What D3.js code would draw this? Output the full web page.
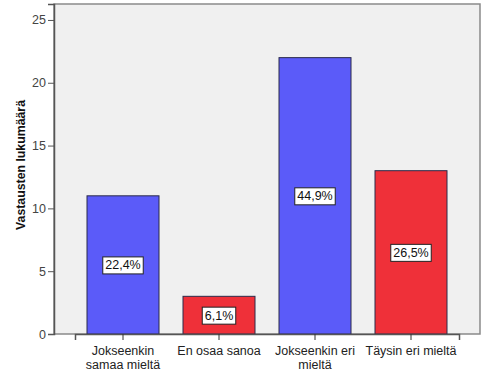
<!DOCTYPE html>
<html><head><meta charset="utf-8">
<script src="https://cdn.jsdelivr.net/npm/d3@7"></script>
<style>body{margin:0;background:#fff;}svg{display:block;font-family:Arial,"Liberation Sans",sans-serif;}</style>
</head><body>
<svg id="c" width="493" height="375"></svg>
<script>
const categories = [["Jokseenkin","samaa mieltä"],["En osaa sanoa"],["Jokseenkin eri","mieltä"],["Täysin eri mieltä"]];
const counts = [11, 3, 22, 13];
const percents = ["22,4%","6,1%","44,9%","26,5%"];
const colors = ["#5b5bf9","#ef3039","#5b5bf9","#ef3039"];
const yTicks = [0,5,10,15,20,25];
const yLabel = "Vastausten lukumäärä";

const svg = d3.select("#c");
const L=54, R=480, T=4, B=334;
const keys = categories.map(c=>c.join(" "));
const x = d3.scaleBand().domain(keys).range([75,459]).paddingInner(0.25).paddingOuter(0.125);
const y = d3.scaleLinear().domain([0,26.27]).range([B,T]);

svg.append("rect").attr("x",L).attr("y",T).attr("width",R-L).attr("height",B-T)
  .attr("fill","#f0f0f0").attr("stroke","#8a8a8a").attr("stroke-width",1.5);

svg.selectAll(".bar").data(counts).enter().append("rect")
  .attr("x",(d,i)=>x(keys[i])).attr("y",d=>y(d))
  .attr("width",x.bandwidth()).attr("height",d=>B-y(d))
  .attr("fill",(d,i)=>colors[i]).attr("stroke","#2a2a4a").attr("stroke-width",1);

// y axis
const ya = svg.append("g").attr("transform",`translate(${L},0)`)
  .call(d3.axisLeft(y).tickValues(yTicks).tickSize(6).tickPadding(2));
ya.select(".domain").attr("stroke","#555").attr("stroke-width",1.5);
ya.selectAll(".tick line").attr("stroke","#555");
ya.selectAll(".tick text").attr("font-size","12.5px").attr("fill","#444").attr("font-family","Arial, 'Liberation Sans', sans-serif");

// x axis
const xa = svg.append("g").attr("transform",`translate(0,${B})`)
  .call(d3.axisBottom(x).tickSize(6).tickFormat(""));
xa.select(".domain").attr("stroke","#555").attr("stroke-width",1.5);
xa.selectAll(".tick line").attr("stroke","#333");
xa.selectAll(".tick").each(function(d,i){
  const t = d3.select(this).append("text").attr("fill","#222").attr("font-size","12.5px")
    .attr("text-anchor","middle").attr("y",21).attr("font-family","Arial, 'Liberation Sans', sans-serif");
  categories[i].forEach((ln,j)=>t.append("tspan").attr("x",0).attr("dy",j===0?0:13.5).text(ln));
});

// percent labels
const lg = svg.selectAll(".lab").data(counts).enter().append("g")
  .attr("transform",(d,i)=>`translate(${x(keys[i])+x.bandwidth()/2},${y(d/2)})`);
lg.append("text").attr("text-anchor","middle").attr("dy","0.36em").attr("font-size","12.5px")
  .attr("fill","#111").attr("font-family","Arial, 'Liberation Sans', sans-serif")
  .text((d,i)=>percents[i]);
lg.each(function(){
  const g=d3.select(this); const bb=g.select("text").node().getBBox();
  g.insert("rect","text").attr("x",bb.x-2.5).attr("y",bb.y-1.5).attr("width",bb.width+5).attr("height",bb.height+3)
    .attr("fill","#fff").attr("stroke","#222").attr("stroke-width",1);
});

svg.append("text").attr("transform",`translate(24.5,165) rotate(-90)`)
  .attr("text-anchor","middle").attr("font-size","12.5px").attr("font-weight","bold")
  .attr("textLength",130).attr("lengthAdjust","spacingAndGlyphs")
  .attr("fill","#111").text(yLabel);
</script>
</body></html>
